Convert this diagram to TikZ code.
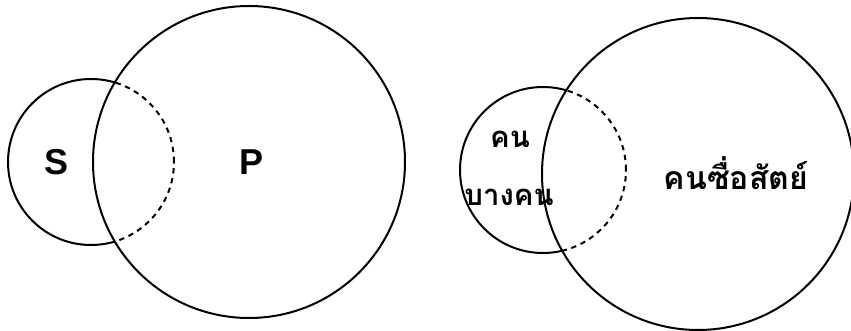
\documentclass[tikz,border=0pt]{standalone}
\usepackage{fontspec}
\newfontfamily\thaifont[Script=Thai]{Loma}
\newfontfamily\lblfont{Liberation Sans}
\begin{document}
\begin{tikzpicture}[x=0.75pt,y=-0.75pt,
  ring/.style={line width=1.5pt},
  hidden/.style={line width=1.5pt, dash pattern=on 4pt off 3.5pt},
  lbl/.style={font=\lblfont\bfseries\fontsize{27}{27}\selectfont},
  thai/.style={font=\thaifont\bfseries\fontsize{24}{28}\selectfont},
  thaism/.style={font=\thaifont\bfseries\fontsize{22}{26}\selectfont}]
\useasboundingbox (0,0) rectangle (851,331);
% ---- left panel ----
\coordinate (sL) at (91,162);
\coordinate (pL) at (249,162);
\draw[ring] (sL) circle[radius=62.25pt];
\filldraw[ring, fill=white] (pL) circle[radius=117pt];
\begin{scope}
  \clip (pL) circle[radius=117pt];
  \draw[hidden] (sL) circle[radius=62.25pt];
\end{scope}
\node[lbl] (S) at (57,162) {S};
\node[lbl] (P) at (252,162) {P};
% ---- right panel ----
\coordinate (sR) at (543,170);
\coordinate (pR) at (698,174);
\draw[ring] (sR) circle[radius=62.25pt];
\filldraw[ring, fill=white] (pR) circle[radius=117pt];
\begin{scope}
  \clip (pR) circle[radius=117pt];
  \draw[hidden] (sR) circle[radius=62.25pt];
\end{scope}
\node[thaism] (k1) at (510,139) {คน};
\node[thaism] (k2) at (509,197) {บางคน};
\node[thai] (k3) at (736,173) {คนซื่อสัตย์};
\end{tikzpicture}
\end{document}
